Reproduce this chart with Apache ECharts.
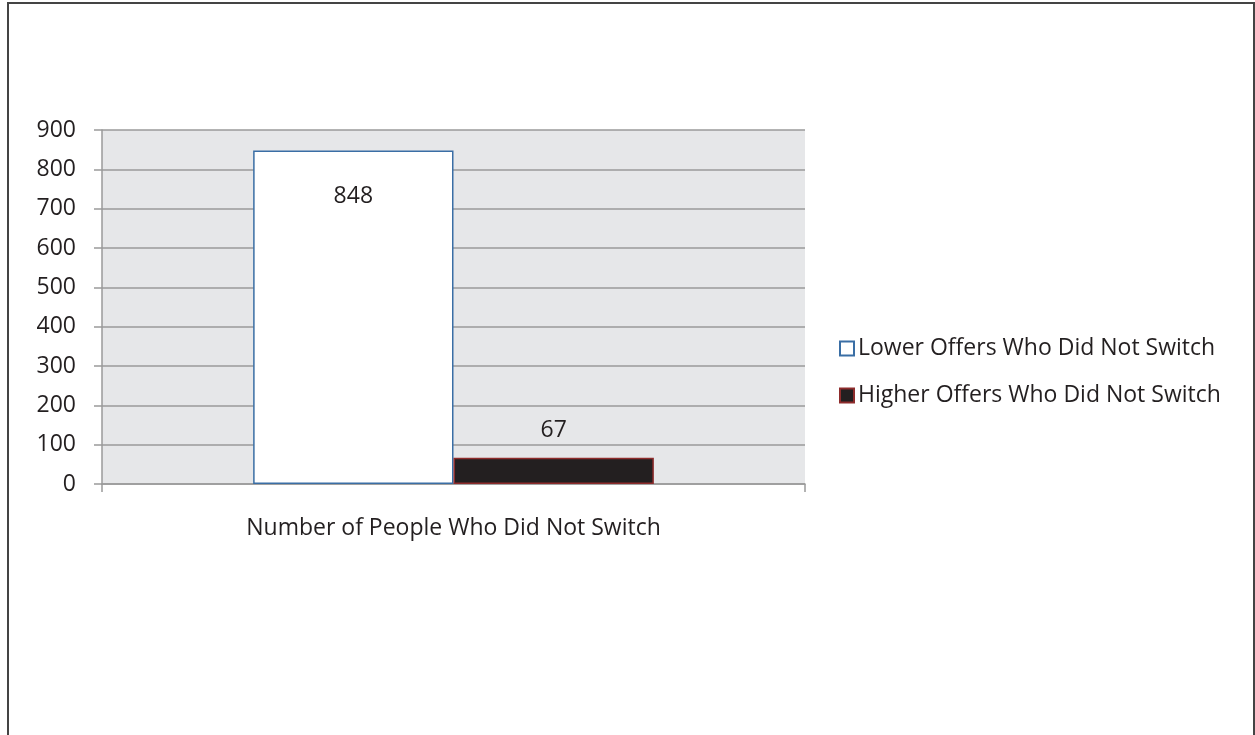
<!DOCTYPE html>
<html><head><meta charset="utf-8">
<script src="https://cdn.jsdelivr.net/npm/echarts@6/dist/echarts.min.js"></script>
<style>html,body{margin:0;padding:0;background:#fff}#c{width:1255px;height:735px}</style>
</head><body><div id="c"></div>
<script>
const categories = ['Number of People Who Did Not Switch'];
const seriesNames = ['Lower Offers Who Did Not Switch', 'Higher Offers Who Did Not Switch'];
const lowerValues = [848];
const higherValues = [67];
const yTicks = [0, 900, 100];

const FONT = '"Open Sans", "Noto Sans", sans-serif';
const TXT = '#231f20';
const FS = 23;
const chart = echarts.init(document.getElementById('c'), null, {renderer: 'canvas'});
chart.setOption({
  animation: false,
  textStyle: {fontFamily: FONT},
  graphic: [{
    type: 'rect', shape: {x: 8, y: 3, width: 1246, height: 760},
    style: {fill: 'none', stroke: '#444', lineWidth: 2}, z: -10
  }],
  grid: {left: 102, right: 450, top: 130, bottom: 251, show: true, backgroundColor: '#e6e7e9', borderWidth: 0},
  legend: {
    orient: 'vertical', left: 834, top: 332, itemWidth: 14, itemHeight: 14, itemGap: 24,
    icon: 'rect',
    textStyle: {fontFamily: FONT, fontSize: FS, color: TXT, padding: [0, 0, 0, -1]},
    data: seriesNames
  },
  xAxis: {
    type: 'category', data: categories,
    axisLine: {lineStyle: {color: '#9a9a9a', width: 1.5}},
    axisTick: {show: true, length: 8, alignWithLabel: false, lineStyle: {color: '#9a9a9a', width: 1.5}},
    axisLabel: {fontFamily: FONT, fontSize: FS, color: TXT, margin: 33}
  },
  yAxis: {
    type: 'value', min: yTicks[0], max: yTicks[1], interval: yTicks[2],
    axisLine: {show: true, lineStyle: {color: '#9a9a9a', width: 1.5}},
    axisTick: {show: true, length: 8, inside: false, lineStyle: {color: '#9a9a9a', width: 1.5}},
    splitLine: {show: true, lineStyle: {color: '#9a9a9a', width: 1.5}},
    axisLabel: {fontFamily: FONT, fontSize: FS, color: TXT, margin: 26}
  },
  series: [{
    name: seriesNames[0], type: 'bar', data: lowerValues,
    barGap: '0%', barCategoryGap: '43%',
    itemStyle: {color: '#ffffff', borderColor: '#3a6ea5', borderWidth: 1.5},
    label: {show: true, position: 'insideTop', distance: 34, fontFamily: FONT, fontSize: FS, color: TXT}
  }, {
    name: seriesNames[1], type: 'bar', data: higherValues,
    itemStyle: {color: '#231f20', borderColor: '#8e2c2c', borderWidth: 1.5},
    label: {show: true, position: 'top', distance: 16, fontFamily: FONT, fontSize: FS, color: TXT}
  }]
});
</script></body></html>
